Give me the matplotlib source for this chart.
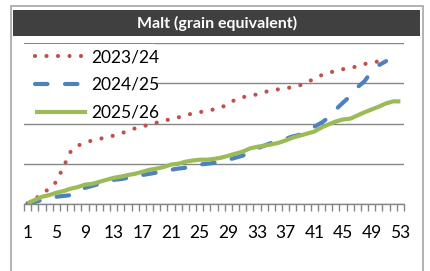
import matplotlib
matplotlib.use('Agg')
import matplotlib.pyplot as plt
import matplotlib.patches as patches

plt.rcParams['font.family'] = ['Lato', 'DejaVu Sans']

# weekly cumulative values (arbitrary units)
weeks_2324 = list(range(1, 52))
vals_2324 = [2, 12, 25, 38, 55, 92, 130, 145, 152, 158, 162, 165, 170, 175, 182,
             188, 192, 198, 202, 208, 210, 215, 220, 225, 228, 232, 235, 240, 248,
             260, 265, 270, 272, 278, 282, 285, 288, 290, 295, 302, 312, 320, 325,
             332, 335, 338, 342, 348, 350, 355, 360]

weeks_2425 = list(range(1, 52))
vals_2425 = [0, 5, 10, 15, 18, 20, 22, 32, 40, 45, 50, 55, 60, 62, 65, 68, 72, 75,
             78, 82, 85, 88, 90, 92, 98, 100, 102, 105, 110, 115, 120, 130, 138,
             145, 152, 158, 162, 168, 172, 178, 192, 202, 215, 235, 252, 268, 290,
             305, 330, 345, 355]

weeks_2526 = list(range(1, 54))
vals_2526 = [2, 10, 18, 22, 28, 32, 38, 42, 48, 50, 55, 60, 65, 68, 72, 75, 80, 85,
             88, 92, 98, 100, 105, 108, 110, 110, 112, 115, 120, 125, 130, 138, 142,
             145, 148, 152, 158, 165, 170, 175, 180, 190, 198, 205, 210, 212, 220,
             228, 235, 242, 250, 255, 255]

tick_labels = list(range(1, 54, 4))

W, H = 431, 271
fig = plt.figure(figsize=(W / 100, H / 100), dpi=100)
fig.patch.set_facecolor('white')

# outer frame and title bar
fig.patches.append(patches.Rectangle((11 / W, -0.05), 412 / W, 1.05 - 6 / H,
                                     transform=fig.transFigure, fill=False,
                                     edgecolor='#A6A6A6', linewidth=1.2))
fig.patches.append(patches.Rectangle((13 / W, 1 - 36 / H), 407 / W, 26 / H,
                                     transform=fig.transFigure, facecolor='#404040',
                                     edgecolor='none'))
fig.text(217 / W, 1 - 23 / H, 'Malt (grain equivalent)', color='white',
         fontsize=11.5, fontweight='bold', ha='center', va='center')

ax = fig.add_axes([24 / W, 1 - 204 / H, 380 / W, 161 / H])
ax.set_xlim(0.5, 53.5)
ax.set_ylim(0, 400)

ax.plot(weeks_2324, vals_2324, color='#C0504D', linewidth=3,
        linestyle=(0, (0.01, 2.75)), dash_capstyle='round', label='2023/24', zorder=3)
ax.plot(weeks_2425, vals_2425, color='#4F81BD', linewidth=3,
        linestyle=(0, (3.0, 4.2)), dash_capstyle='round', label='2024/25', zorder=4)
ax.plot(weeks_2526, vals_2526, color='#9BBB59', linewidth=3,
        solid_capstyle='butt', label='2025/26', zorder=5)

for s in ['left', 'right', 'top']:
    ax.spines[s].set_visible(False)
ax.spines['bottom'].set_color('#868686')
ax.spines['bottom'].set_linewidth(1)

ax.set_yticks([0, 100, 200, 300, 400])
ax.set_yticklabels([])
ax.tick_params(axis='y', length=0)
ax.yaxis.grid(True, color='#868686', linewidth=1)
ax.set_axisbelow(True)

ax.set_xticks(tick_labels)
ax.set_xticklabels([str(t) for t in tick_labels], fontsize=12.5)
ax.set_xticks([k + 0.5 for k in range(0, 54)], minor=True)
ax.tick_params(axis='x', which='major', length=0, pad=15)
ax.tick_params(axis='x', which='minor', length=5, color='#868686', width=1)

# white area behind legend hides the middle gridline
ax.add_patch(patches.Rectangle((0, 1 - 74 / 161), 131 / 380, 73 / 161,
                               transform=ax.transAxes, facecolor='white',
                               edgecolor='none', zorder=1.8))
ax.legend(loc='upper left', bbox_to_anchor=(11 / 380, 1 - 6 / 161),
          frameon=False, fontsize=12.5, handlelength=3.0, handletextpad=0.25,
          labelspacing=0.68, borderpad=0, borderaxespad=0)

fig.savefig('out.png', dpi=100)
